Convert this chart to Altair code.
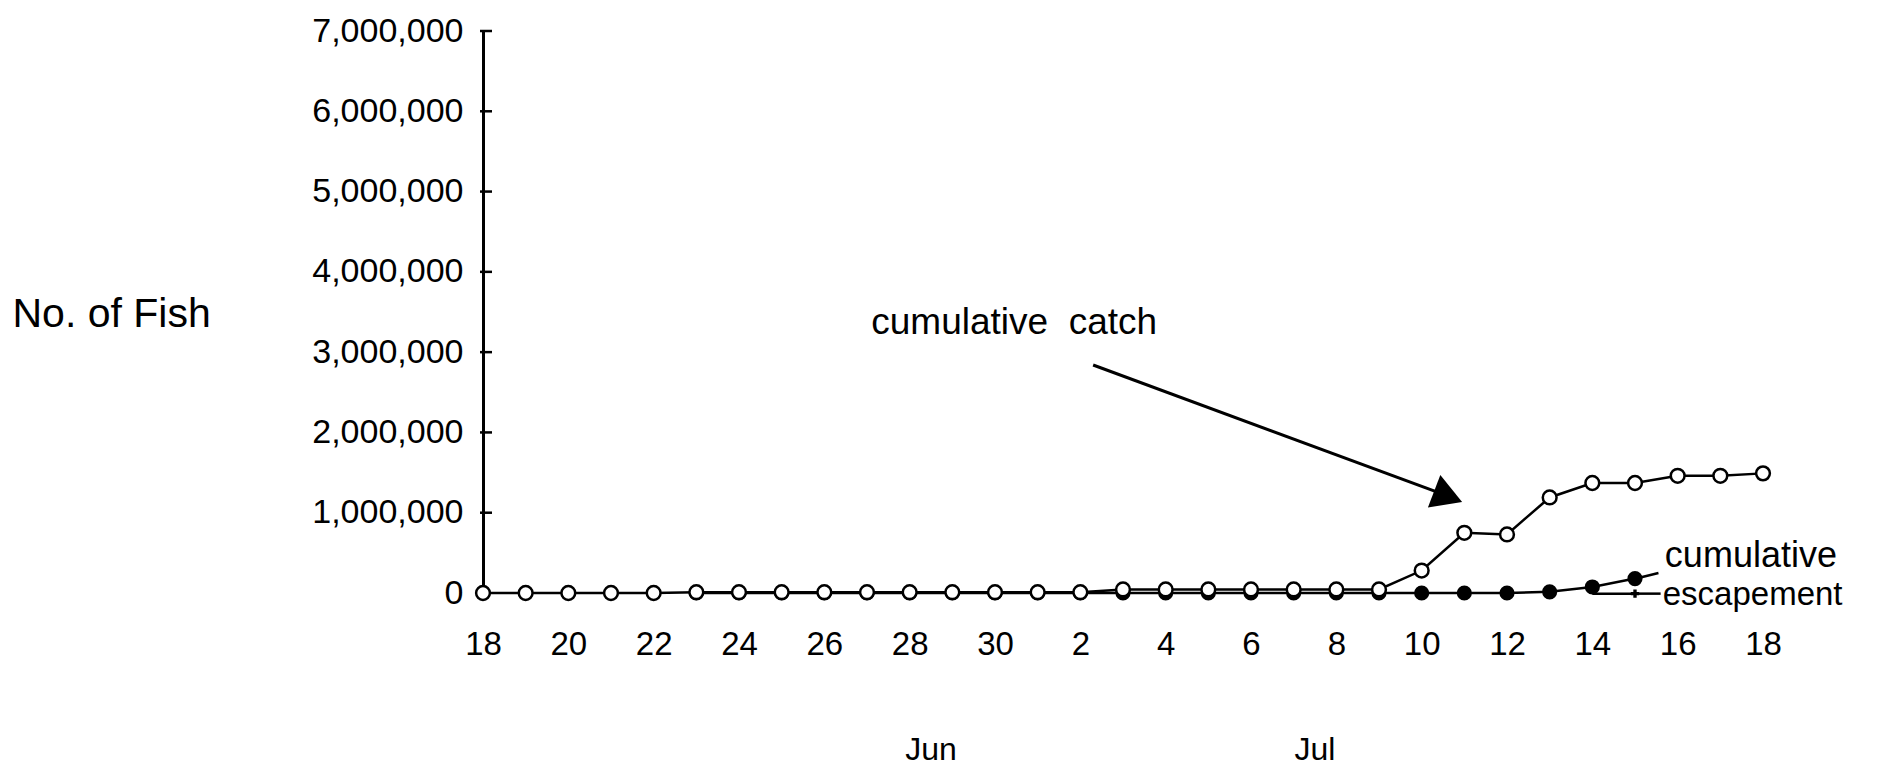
import altair as alt
import pandas as pd

# ---- data (day index 0 = Jun 18, 30 = Jul 18) ----
day_index = list(range(31))
catch = [0, 0, 0, 0, 0,
         10000, 10000, 10000, 10000, 10000, 10000, 10000, 10000, 10000, 10000,
         45000, 45000, 45000, 45000, 45000, 45000, 45000,
         280000, 750000, 730000, 1190000, 1370000, 1370000, 1460000, 1460000, 1490000]
esc_days = list(range(5, 28))
escapement = [0] * 17 + [0, 0, 0, 15000, 75000, 180000]
other_days = [26, 27]
other_vals = [-8000, -8000]

y_tick_values = [1000000, 2000000, 3000000, 4000000, 5000000, 6000000, 7000000]
x_label_values = list(range(0, 31, 2))

month_names = ["Jun", "Jul"]
month_pos = [10.5, 19.5]
month_y = [-1960000, -1960000]

FONT = "Liberation Sans"

catch_df = pd.DataFrame({"day": day_index, "value": catch})
esc_df = pd.DataFrame({"day": esc_days, "value": escapement})
other_df = pd.DataFrame({"day": other_days, "value": other_vals})
ytick_df = pd.DataFrame({"value": y_tick_values})
month_df = pd.DataFrame({"day": month_pos, "value": month_y, "label": month_names})

ann_text_df = pd.DataFrame({
    "day": [9.1, 27.7, 27.65],
    "value": [3360000, 460000, -30000],
    "label": ["cumulative\u00a0\u00a0catch", "cumulative", "escapement"],
    "size": [37, 36, 33],
})
arrow_df = pd.DataFrame({"day": [14.3], "value": [2840000], "day2": [22.4], "value2": [1250000]})
head_df = pd.DataFrame({"day": [22.62], "value": [1200000]})
leader_df = pd.DataFrame({
    "day": [27.1, 27.0],
    "value": [190000, -8000],
    "day2": [27.55, 27.6],
    "value2": [250000, -8000],
})

xscale = alt.Scale(domain=[0, 30], nice=False, zero=False)
yscale = alt.Scale(domain=[0, 7000000], nice=False)

x_axis = alt.Axis(
    values=x_label_values,
    labelExpr="'' + (datum.value <= 12 ? datum.value + 18 : datum.value - 12)",
    domain=False, ticks=False, grid=False, title=None, labelFlush=False,
    labelFont=FONT, labelFontSize=33, labelColor="black", labelPadding=35,
    labelBaseline="top", labelAlign="center",
)
y_axis = alt.Axis(
    values=[0] + y_tick_values, format=",.0f", domain=True, domainColor="black",
    domainWidth=3, ticks=False, grid=False, labelPadding=20, labelFlush=False,
    labelFont=FONT, labelFontSize=34, labelColor="black",
    title="No. of Fish", titleAngle=0, titleX=-471, titleY=283,
    titleAlign="left", titleBaseline="middle", titleFont=FONT,
    titleFontSize=41, titleFontWeight="normal", titleColor="black",
)

X = alt.X("day:Q", scale=xscale, axis=x_axis)
Y = alt.Y("value:Q", scale=yscale, axis=y_axis)

esc_line = alt.Chart(esc_df).mark_line(color="black", strokeWidth=2.5).encode(x=X, y=Y)
esc_pts = alt.Chart(esc_df).mark_point(shape="circle", filled=True, color="black",
                                       size=230, opacity=1).encode(x=X, y=Y)
other_line = alt.Chart(other_df).mark_line(color="black", strokeWidth=2.5).encode(x=X, y=Y)
other_pt = alt.Chart(other_df.iloc[[1]]).mark_point(shape="cross", filled=True, color="black",
                                                   size=70, opacity=1).encode(x=X, y=Y)
catch_line = alt.Chart(catch_df).mark_line(color="black", strokeWidth=2.5).encode(x=X, y=Y)
catch_pts = alt.Chart(catch_df).mark_point(shape="circle", filled=True, fill="white",
                                           stroke="black", strokeWidth=2.5, size=190,
                                           opacity=1).encode(x=X, y=Y)

yticks = alt.Chart(ytick_df).mark_rule(color="black", strokeWidth=2.5).encode(
    x=alt.value(-3), x2=alt.value(9), y=Y)

months = alt.Chart(month_df).mark_text(font=FONT, fontSize=32, color="black",
                                       baseline="middle", align="center").encode(
    x=X, y=Y, text="label:N")

ann_text = alt.Chart(ann_text_df).mark_text(font=FONT, color="black",
                                            baseline="middle", align="left").encode(
    x=X, y=Y, text="label:N", size=alt.Size("size:Q", scale=None, legend=None))

arrow = alt.Chart(arrow_df).mark_rule(color="black", strokeWidth=3).encode(
    x=X, y=Y, x2="day2:Q", y2="value2:Q")
head = alt.Chart(head_df).mark_point(shape="triangle-right", filled=True, color="black",
                                     size=1200, angle=21, opacity=1).encode(x=X, y=Y)
leaders = alt.Chart(leader_df).mark_rule(color="black", strokeWidth=2.5).encode(
    x=X, y=Y, x2="day2:Q", y2="value2:Q")

chart = alt.layer(
    catch_line, esc_line, esc_pts, other_line, other_pt, catch_pts, yticks,
    months, ann_text, arrow, head, leaders,
).properties(
    width=1280, height=562,
    autosize=alt.AutoSizeParams(type="none"),
    padding={"left": 475, "top": 23, "right": 100, "bottom": 175},
    background="white",
).configure_view(stroke=None)

chart.save("out.html", embed_options={"renderer": "svg", "actions": False})
